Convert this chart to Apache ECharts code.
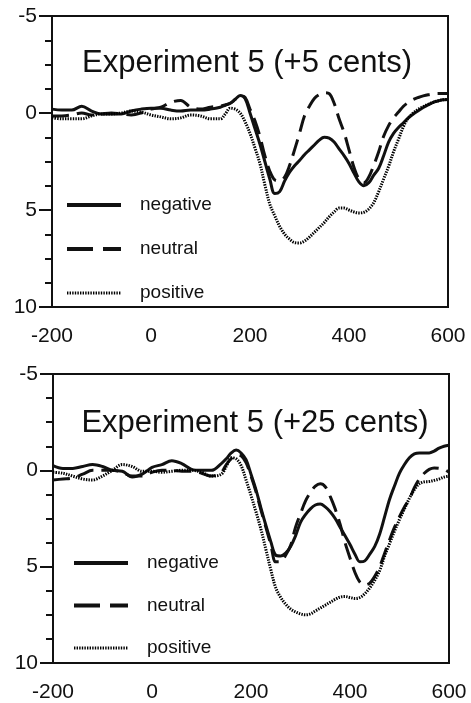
<!DOCTYPE html>
<html><head><meta charset="utf-8">
<script src="https://cdn.jsdelivr.net/npm/echarts@6/dist/echarts.min.js"></script>
<style>html,body{margin:0;padding:0;background:#fff}#c{width:471px;height:703px}</style>
</head><body><div id="c"></div>
<script>
// time points (ms)
const times = [-200,-180,-160,-140,-120,-100,-80,-60,-40,-20,0,20,40,60,80,100,120,140,
150,160,170,180,190,200,210,220,230,240,250,260,270,280,290,300,310,320,330,340,350,360,370,380,390,400,410,420,430,440,450,460,470,480,490,500,510,520,530,540,550,560,570,580,590,600];
const xTicks = [-200, 0, 200, 400, 600];
const yTicks = [-5, 0, 5, 10];
const titles = ['Experiment 5 (+5 cents)', 'Experiment 5 (+25 cents)'];
const names = ['negative', 'neutral', 'positive'];

// Panel 1 (+5 cents)
const neg1 = [-0.2,-0.15,-0.15,-0.35,-0.1,0.05,0.05,0.05,-0.1,-0.2,-0.25,-0.25,-0.15,-0.1,-0.15,-0.15,-0.2,-0.3,
-0.4,-0.5,-0.7,-0.9,-0.75,0.0,0.8,1.6,2.5,3.4,
4.15,4.05,3.5,3.05,2.72,2.45,2.15,1.9,1.65,1.4,
1.25,1.3,1.5,1.85,2.2,2.6,3.1,3.55,3.75,3.6,
3.2,2.85,2.2,1.5,1.05,0.75,0.5,0.25,0.05,-0.12,
-0.28,-0.42,-0.55,-0.62,-0.68,-0.7];
const neu1 = [0.15,0.15,0.1,0.0,0.1,0.05,0.0,0.05,0.1,0.0,-0.2,-0.3,-0.55,-0.65,-0.3,-0.2,-0.3,-0.35,
-0.42,-0.5,-0.7,-0.9,-0.8,-0.2,0.4,1.2,2.2,3.0,
3.45,3.5,3.3,2.7,1.9,1.05,0.15,-0.35,-0.75,-0.95,
-1.05,-1.0,-0.5,0.3,1.0,1.9,2.8,3.4,3.6,3.3,
2.7,2.0,1.2,0.65,0.25,-0.05,-0.35,-0.55,-0.7,-0.8,
-0.88,-0.94,-0.98,-1.0,-1.0,-1.0];
const pos1 = [0.25,0.3,0.3,0.3,0.15,0.05,0.05,0.0,-0.1,-0.05,0.1,0.2,0.3,0.25,0.1,0.15,0.3,0.3,
0.05,-0.25,-0.2,0.0,0.45,1.05,1.8,2.6,3.7,4.7,
5.3,5.85,6.25,6.5,6.68,6.7,6.6,6.4,6.15,5.9,
5.65,5.35,5.1,4.9,4.9,5.0,5.1,5.15,5.12,4.95,
4.62,4.05,3.4,2.75,2.0,1.35,0.7,0.25,0.0,-0.2,
-0.33,-0.45,-0.55,-0.63,-0.68,-0.7];

// Panel 2 (+25 cents)
const neg2 = [-0.25,-0.1,-0.1,-0.2,-0.3,-0.2,0.0,0.05,0.35,0.2,-0.15,-0.3,-0.5,-0.35,-0.05,0.0,0.0,-0.35,
-0.6,-0.9,-1.05,-0.9,-0.55,0.2,1.0,1.95,2.85,3.7,
4.4,4.45,4.3,3.95,3.4,2.7,2.3,2.0,1.8,1.75,
1.9,2.15,2.5,2.95,3.4,3.85,4.35,4.75,4.7,4.35,
3.95,3.3,2.4,1.5,0.8,0.15,-0.3,-0.65,-0.85,-0.9,
-0.9,-0.9,-1.0,-1.15,-1.25,-1.3];
const neu2 = [0.5,0.45,0.4,0.2,0.0,0.0,0.0,0.1,0.3,0.3,0.1,0.0,0.0,0.05,0.05,0.15,0.3,0.1,
-0.3,-0.6,-0.8,-0.75,-0.4,0.3,1.1,2.05,2.95,3.85,
4.75,4.75,4.4,3.9,2.95,2.25,1.6,1.15,0.82,0.7,
0.85,1.35,2.0,2.8,3.75,4.55,5.3,5.8,5.95,5.85,
5.5,5.0,4.3,3.6,2.95,2.4,1.9,1.5,0.9,0.45,
0.15,-0.05,-0.12,-0.1,-0.05,0.1];
const pos2 = [0.1,0.15,0.3,0.45,0.5,0.3,0.0,-0.3,-0.2,0.05,0.05,0.1,0.05,0.0,0.0,0.1,0.3,0.2,
-0.2,-0.65,-0.6,-0.25,0.5,1.3,2.15,3.05,4.1,5.15,
6.1,6.6,6.95,7.2,7.35,7.45,7.5,7.45,7.3,7.15,
7.0,6.85,6.7,6.58,6.55,6.6,6.65,6.6,6.4,6.1,
5.7,5.2,4.45,3.8,3.15,2.55,2.0,1.45,1.0,0.7,
0.6,0.58,0.52,0.45,0.35,0.3];

const FONT = 'Liberation Sans, Arial, sans-serif';
const INK = '#111';
const panels = [[neg1, neu1, pos1], [neg2, neu2, pos2]];
const styles = [
  {type: 'solid', width: 3},
  {type: [17, 8], width: 3},
  {type: [1.4, 1.2], width: 3}
];

function xAxisFor(i) {
  return {
    type: 'value', gridIndex: i, min: xTicks[0], max: xTicks[xTicks.length - 1], interval: 200,
    axisLine: {show: true, onZero: false, lineStyle: {color: INK, width: 2}},
    axisTick: {show: false}, splitLine: {show: false},
    axisLabel: {color: INK, fontSize: 21, fontFamily: FONT, margin: 19,
      formatter: v => xTicks.includes(v) ? String(v) : ''}
  };
}
function yAxisFor(i) {
  return {
    type: 'value', gridIndex: i, inverse: true, min: yTicks[0], max: yTicks[yTicks.length - 1], interval: 5,
    axisLine: {show: true, onZero: false, lineStyle: {color: INK, width: 2}},
    axisTick: {show: true, length: 13, lineStyle: {color: INK, width: 2}},
    minorTick: {show: true, splitNumber: 4, length: 7, lineStyle: {color: INK, width: 2}},
    splitLine: {show: false},
    axisLabel: {color: INK, fontSize: 21, fontFamily: FONT, margin: 15,
      formatter: v => yTicks.includes(v) ? String(v) : ''}
  };
}

const series = [];
panels.forEach((arrs, gi) => {
  arrs.forEach((arr, si) => {
    series.push({
      type: 'line', name: names[si], xAxisIndex: gi, yAxisIndex: gi,
      data: times.map((t, k) => [t, arr[k]]),
      symbol: 'none', smooth: 0.35,
      lineStyle: {color: si === 2 ? '#000' : INK, width: styles[si].width, type: styles[si].type},
      itemStyle: {color: INK}
    });
  });
});

function makeLegend(left, top, gap) {
  return {
    orient: 'vertical', left: left, top: top, itemGap: gap,
    data: [
      {name: names[0]},
      {name: names[1], lineStyle: {type: [26, 10], width: 4}},
      {name: names[2], lineStyle: {width: 3}}
    ],
    itemWidth: 54, itemHeight: 20, padding: 0,
    selectedMode: false,
    lineStyle: {width: 4},
    itemStyle: {color: 'rgba(0,0,0,0)', borderColor: 'rgba(0,0,0,0)', borderWidth: 0},
    textStyle: {color: INK, fontSize: 19, fontFamily: FONT, lineHeight: 20, padding: [0, 0, 0, 14]}
  };
}

const chart = echarts.init(document.getElementById('c'), null, {renderer: 'canvas'});
chart.setOption({
  animation: false,
  backgroundColor: '#fff',
  title: [
    {text: titles[0], left: 247, top: 48, textAlign: 'center', padding: 0,
      textStyle: {fontSize: 31, fontWeight: 'normal', color: INK, fontFamily: FONT}},
    {text: titles[1], left: 255, top: 408, textAlign: 'center', padding: 0,
      textStyle: {fontSize: 31, fontWeight: 'normal', color: INK, fontFamily: FONT}}
  ],
  legend: [makeLegend(65, 195, 24), makeLegend(72, 553, 22.5)],
  grid: [
    {left: 52, top: 16, width: 396, height: 291, show: true, borderColor: INK, borderWidth: 2, backgroundColor: 'transparent'},
    {left: 53, top: 374, width: 396, height: 290, show: true, borderColor: INK, borderWidth: 2, backgroundColor: 'transparent'}
  ],
  xAxis: [xAxisFor(0), xAxisFor(1)],
  yAxis: [yAxisFor(0), yAxisFor(1)],
  series: series
});
</script>
</body></html>
